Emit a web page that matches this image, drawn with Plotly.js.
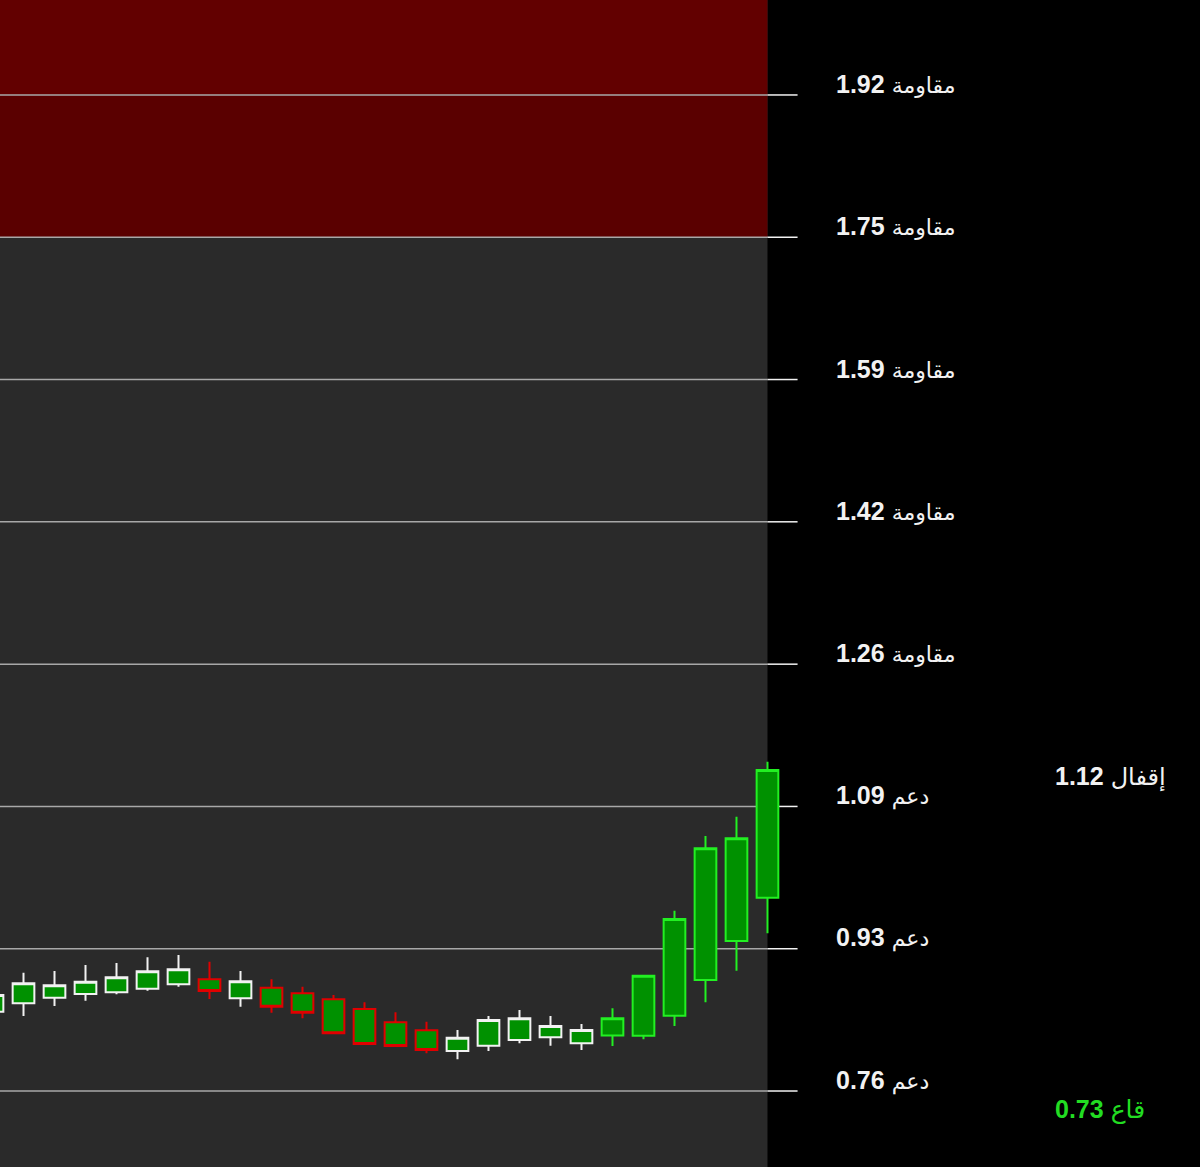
<!DOCTYPE html>
<html>
<head>
<meta charset="utf-8">
<script src="https://cdn.plot.ly/plotly-3.0.1.min.js"></script>
<style>
  html, body { margin: 0; padding: 0; background: #000; }
  #chart { width: 1200px; height: 1167px; }
</style>
</head>
<body>
<div id="chart"></div>
<script>
// candles, oldest first (0 is half cut off at the left edge)
const openP  = [0.8524, 0.8621, 0.8687, 0.8730, 0.8750, 0.8791, 0.8843, 0.8901, 0.8680, 0.8803, 0.8738, 0.8668, 0.8555,
                0.8400, 0.8307, 0.8066, 0.8128, 0.8194, 0.8225, 0.8156, 0.8246, 0.8244, 0.8477, 0.8893, 0.9347, 0.9851];
const highP  = [0.8776, 0.8978, 0.8998, 0.9068, 0.9091, 0.9157, 0.9184, 0.9106, 0.8998, 0.8901, 0.8815, 0.8718, 0.8633,
                0.8517, 0.8407, 0.8310, 0.8474, 0.8543, 0.8474, 0.8380, 0.8563, 0.8943, 0.9700, 1.0570, 1.0795, 1.1435];
const lowP   = [0.8474, 0.8474, 0.8590, 0.8652, 0.8726, 0.8768, 0.8815, 0.8672, 0.8582, 0.8512, 0.8447, 0.8264, 0.8136,
                0.8112, 0.8039, 0.7969, 0.8066, 0.8156, 0.8128, 0.8078, 0.8124, 0.8202, 0.8357, 0.8633, 0.9001, 0.9437];
const closeP = [0.8718, 0.8854, 0.8831, 0.8873, 0.8924, 0.8994, 0.9017, 0.8765, 0.8878, 0.8582, 0.8512, 0.8272, 0.8147,
                0.8124, 0.8078, 0.8221, 0.8427, 0.8447, 0.8357, 0.8310, 0.8447, 0.8943, 0.9603, 1.0427, 1.0543, 1.1339];
// outline group of each candle: w = white, r = red, g = bright green
const group  = ['w','w','w','w','w','w','w','r','w','r','r','r','r','r','r','w','w','w','w','w','g','g','g','g','g','g'];

const levels = [0.76, 0.9257, 1.0914, 1.2571, 1.4229, 1.5886, 1.7543, 1.92];
const lastClose = 1.12;
const lowest = 0.73;

const C = {
  bg: '#000000', panel: '#2a2a2a', band: '#5a0000', bandTop: '#620000',
  fill: '#009100', w: '#f2f2f2', r: '#e00000', g: '#22f022',
  grid: '#a8a8a8', text: '#f2f2f2', low: '#22dd22'
};

const n = openP.length;
const idx = openP.map((_, i) => i);
const yRange = [0.6715, 2.0306];
const xRange = [0.242, 38.952];

const traces = ['w','r','g'].map(k => {
  const sel = idx.filter(i => group[i] === k);
  const style = {line: {color: C[k], width: 2}, fillcolor: C.fill};
  return {
    type: 'candlestick',
    x: sel, open: sel.map(i => openP[i]), high: sel.map(i => highP[i]),
    low: sel.map(i => lowP[i]), close: sel.map(i => closeP[i]),
    increasing: style, decreasing: style,
    whiskerwidth: 0, hoverinfo: 'skip', showlegend: false
  };
});

const shapes = [
  {type:'rect', xref:'x', yref:'y', x0:-2, x1:n-1, y0:yRange[0], y1:yRange[1], fillcolor:C.panel, line:{width:0}, layer:'below'},
  {type:'rect', xref:'x', yref:'y', x0:-2, x1:n-1, y0:levels[6], y1:levels[7], fillcolor:C.band, line:{width:0}, layer:'below'},
  {type:'rect', xref:'x', yref:'y', x0:-2, x1:n-1, y0:levels[7], y1:yRange[1], fillcolor:C.bandTop, line:{width:0}, layer:'below'}
];
levels.forEach(v => {
  shapes.push({type:'line', xref:'x', yref:'y', x0:-2, x1:n-1, y0:v, y1:v, line:{color:C.grid, width:1.5}, layer:'below'});
  shapes.push({type:'line', xref:'x', yref:'y', x0:n-1, x1:n-1+0.97, y0:v, y1:v, line:{color:C.w, width:1.5}, layer:'below'});
});

const font = {family:'Liberation Sans', size:25, color:C.text};
const ar = (s, px) => '<span style="font-family:DejaVu Sans;font-size:' + px + 'px">' + s + '</span>';
const annotations = levels.map(v => ({
  xref:'paper', yref:'y', x:834/1200, y:v, xanchor:'left', yanchor:'middle', yshift:11,
  text: '<b>' + v.toFixed(2) + '</b> ' + ar(v > lastClose ? 'مقاومة' : 'دعم', 22),
  showarrow:false, font
}));
annotations.push({xref:'paper', yref:'y', x:1053/1200, y:lastClose, xanchor:'left', yanchor:'middle', yshift:5,
  text: '<b>' + lastClose.toFixed(2) + '</b> ' + ar('إقفال', 24), showarrow:false, font});
annotations.push({xref:'paper', yref:'y', x:1053/1200, y:lowest, xanchor:'left', yanchor:'middle', yshift:7,
  text: '<b>' + lowest.toFixed(2) + '</b> ' + ar('قاع', 25), showarrow:false, font:{...font, color:C.low}});

Plotly.newPlot('chart', traces, {
  width:1200, height:1167, margin:{t:0,r:0,b:0,l:0},
  paper_bgcolor:C.bg, plot_bgcolor:C.bg, boxgap:0,
  xaxis:{range:xRange, visible:false, rangeslider:{visible:false}, fixedrange:true},
  yaxis:{range:yRange, visible:false, fixedrange:true},
  shapes, annotations, hovermode:false
}, {displayModeBar:false, staticPlot:true});
</script>
</body>
</html>
